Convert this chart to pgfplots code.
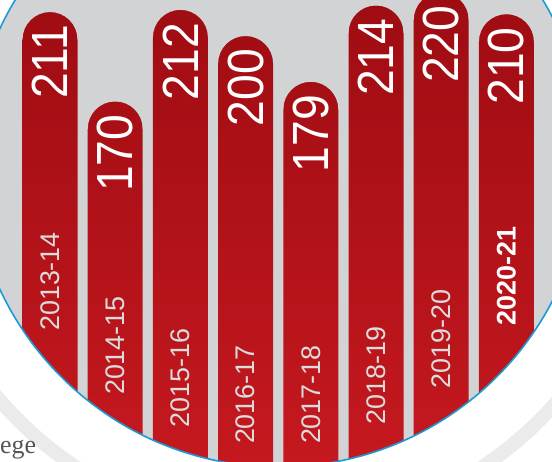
\documentclass[border=0pt]{standalone}
\usepackage{pgfplots}
\pgfplotsset{compat=1.18}
\usepackage{pgfplotstable}
\usepackage{graphicx}
\usepackage{fontspec}
\setmainfont{Liberation Sans}
\newfontfamily\seriffont{Liberation Serif}
\definecolor{bgGray}{HTML}{D1D3D4}
\definecolor{ringBlue}{HTML}{1B9AD6}
\definecolor{ringGray}{HTML}{EBEBEB}
\definecolor{barTop}{HTML}{9E0C12}
\definecolor{barBot}{HTML}{C5181F}
\definecolor{yearGray}{HTML}{DCDCDC}
\definecolor{txtGray}{HTML}{555555}
\pgfdeclareplotmark{capmask}{%
  \pgfpathmoveto{\pgfqpoint{-28.5bp}{1bp}}%
  \pgfpathlineto{\pgfqpoint{-28.5bp}{-27.5bp}}%
  \pgfpathlineto{\pgfqpoint{-27.5bp}{-27.5bp}}%
  \pgfpatharc{180}{0}{27.5bp}%
  \pgfpathlineto{\pgfqpoint{28.5bp}{-27.5bp}}%
  \pgfpathlineto{\pgfqpoint{28.5bp}{1bp}}%
  \pgfpathclose
  \pgfusepath{fill}%
}
\pgfplotstableread{
x y
0 211
1 170
2 212
3 200
4 179
5 214
6 220
7 210
}\values
\pgfplotstableread{
x y label
0 87.4 2013-14
1 58.0 2014-15
2 43.1 2015-16
3 35.5 2016-17
4 35.5 2017-18
5 44.3 2018-19
6 61.0 2019-20
}\years
\pgfplotstableread{
x y label
7 89.9 2020-21
}\yearbold
\begin{document}
\begin{tikzpicture}[x=1bp,y=1bp]
\useasboundingbox (0,0) rectangle (552,462);
\fill[white] (0,0) rectangle (552,462);
\draw[ringGray, line width=14bp] (279,303) circle (369);
\node[anchor=base west, inner sep=0pt, text=txtGray, font=\seriffont\fontsize{26}{26}\selectfont] at (0,8) {ege};
\begin{scope}
\clip (279,303) circle (308);
\fill[bgGray] (279,303) circle (308);
\begin{axis}[
  at={(0,0)}, anchor=south west,
  width=552bp, height=491.4bp, scale only axis,
  xmin=-0.7669, xmax=7.6994, ymin=4.6, ymax=230,
  hide axis,
  /pgf/number format/assume math mode=true,
]
\addplot[ybar, bar width=55bp, draw=none, top color=barTop, bottom color=barBot]
  table[x=x, y=y] {\values};
\addplot[only marks, mark=capmask, mark options={fill=bgGray, draw=none}]
  table[x=x, y=y] {\values};
\addplot[draw=none, mark=none, point meta=explicit,
  nodes near coords={\scalebox{0.91}[1]{\pgfmathprintnumber[fixed,precision=0]{\pgfplotspointmeta}}},
  every node near coord/.style={rotate=90, anchor=east, inner xsep=13bp, inner ysep=0pt,
    text=white, font=\fontsize{51}{51}\selectfont}]
  table[x=x, y=y, meta=y] {\values};
\addplot[draw=none, mark=none, nodes near coords, point meta=explicit symbolic,
  every node near coord/.style={rotate=90, anchor=center, inner sep=0pt,
    text=yearGray, font=\fontsize{27}{27}\selectfont}]
  table[x=x, y=y, meta=label] {\years};
\addplot[draw=none, mark=none, nodes near coords, point meta=explicit symbolic,
  every node near coord/.style={rotate=90, anchor=center, inner sep=0pt,
    text=white, font=\bfseries\fontsize{27}{27}\selectfont}]
  table[x=x, y=y, meta=label] {\yearbold};
\end{axis}
\end{scope}
\draw[ringBlue, line width=1.6bp] (279,303) circle (308);
\end{tikzpicture}
\end{document}
